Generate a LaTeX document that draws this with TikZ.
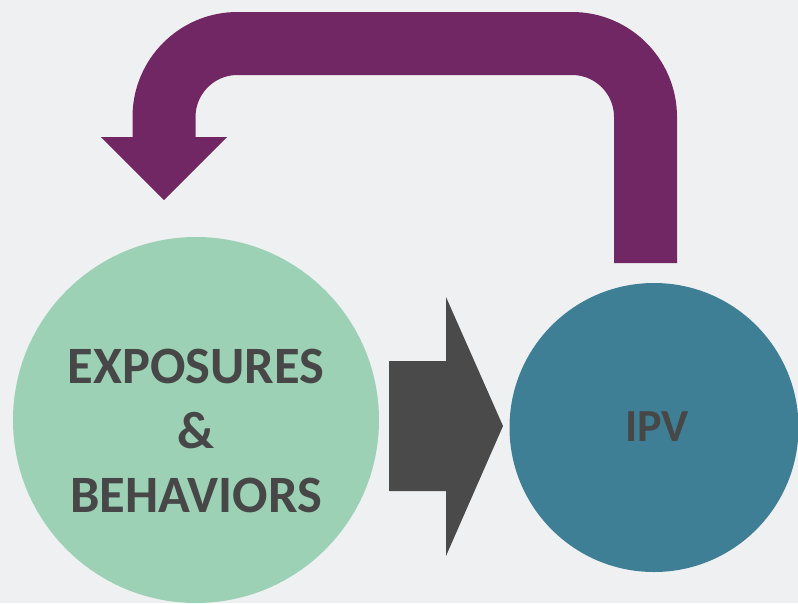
\documentclass[tikz,border=0pt]{standalone}
\usepackage{fontspec}
\setmainfont{Carlito}
\definecolor{bg}{HTML}{EFF0F2}
\definecolor{fbpurple}{HTML}{702764}
\definecolor{ipvteal}{HTML}{3F7F96}
\definecolor{expgreen}{HTML}{9CD1B5}
\definecolor{arrowgray}{HTML}{4A4A4A}
\definecolor{txtgray}{HTML}{474747}
\begin{document}
\begin{tikzpicture}[x=1pt,y=-1pt,
  bubble/.style={circle,inner sep=0pt,outer sep=0pt,draw=none},
  label/.style={inner sep=0pt,outer sep=0pt,text=txtgray,font=\bfseries,align=center}]
\fill[bg] (0,0) rectangle (798,603);
\useasboundingbox (0,0) rectangle (798,603);
\clip (0,0) rectangle (798,603);
% circles
\node[bubble,fill=expgreen,minimum size=366pt] (exp) at (196,420) {};
\node[bubble,fill=ipvteal,minimum size=289pt] (ipv) at (654,427.5) {};
\node[label,font=\bfseries\fontsize{52.5}{64.5}\selectfont] (expt) at (196,431) {EXPOSURES\\\&\\BEHAVIORS};
\node[label,font=\bfseries\fontsize{46}{55}\selectfont] (ipvt) at (657,427) {IPV};
% forward arrow
\coordinate (fa1) at (389,361);
\coordinate (fa2) at (446,361);
\coordinate (fa3) at (446,297);
\coordinate (fa4) at (503,426);
\coordinate (fa5) at (446,556);
\coordinate (fa6) at (446,491);
\coordinate (fa7) at (389,491);
\fill[arrowgray] (fa1) -- (fa2) -- (fa3) -- (fa4) -- (fa5) -- (fa6) -- (fa7) -- cycle;
% feedback arrow
\coordinate (fb0) at (645.5,263);
\coordinate (fb1) at (645.5,43.5);
\coordinate (fb2) at (164,43.5);
\coordinate (fb3) at (164,137.5);
\coordinate (fbl) at (101,137);
\coordinate (fbr) at (227,137);
\coordinate (fbtip) at (164,200);
\draw[fbpurple,line width=63pt,rounded corners=73.5pt,line cap=butt] (fb0) -- (fb1) -- (fb2) -- (fb3);
\fill[fbpurple] (fbl) -- (fbr) -- (fbtip) -- cycle;
\end{tikzpicture}
\end{document}
